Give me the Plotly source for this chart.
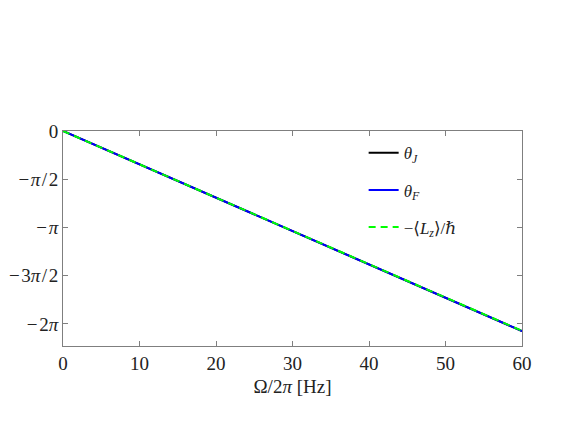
import plotly.graph_objects as go

freq_hz = [0, 10, 20, 30, 40, 50, 60]
theta_J = [0, -1.086, -2.172, -3.257, -4.343, -5.429, -6.515]
theta_F = [0, -1.086, -2.172, -3.257, -4.343, -5.429, -6.515]
Lz_over_hbar = [0, -1.084, -2.168, -3.252, -4.336, -5.420, -6.505]

pi = 3.141592653589793
ytick_vals = [0, -pi/2, -pi, -3*pi/2, -2*pi]
ytick_text = ["0", "−\u200a<i>π</i>\u200a/\u200a2", "−\u200a<i>π</i>",
              "−\u200a3<i>π</i>\u200a/\u200a2", "−\u200a2<i>π</i>"]
xtick_vals = [0, 10, 20, 30, 40, 50, 60]

font_family = "Liberation Serif, DejaVu Serif, serif"

fig = go.Figure()
fig.add_trace(go.Scatter(x=freq_hz, y=theta_J, mode="lines", name="<i>θ<sub>J</sub></i>",
                         line=dict(color="black", width=2), legendgroup="a"))
fig.add_trace(go.Scatter(x=freq_hz, y=theta_F, mode="lines", name="<i>θ<sub>F</sub></i>",
                         line=dict(color="#0000ff", width=2), legendgroup="b"))
fig.add_trace(go.Scatter(x=freq_hz, y=Lz_over_hbar, mode="lines", name="−⟨<i>L<sub>z</sub></i>⟩/ℏ",
                         line=dict(color="#00ff00", width=2, dash="7px,5px"), legendgroup="c"))

axis_common = dict(showline=True, linecolor="#7f7f7f", linewidth=1, mirror="ticks",
                   ticks="inside", ticklen=5, tickcolor="#7f7f7f", showgrid=False, zeroline=False,
                   automargin=False,
                   tickfont=dict(family=font_family, size=19, color="#222"))

fig.update_xaxes(range=[0, 60], tickvals=xtick_vals,
                 title=dict(text="Ω/2<i>π</i> [Hz]", font=dict(family=font_family, size=19, color="#222"), standoff=6),
                 **axis_common)
fig.update_yaxes(range=[-7.0, 0], tickvals=ytick_vals, ticktext=ytick_text, **axis_common)

fig.update_layout(
    width=573, height=425,
    margin=dict(l=55, r=59, t=123, b=87),
    paper_bgcolor="white", plot_bgcolor="white",
    showlegend=True,
    legend=dict(x=0.655, y=0.98, xanchor="left", yanchor="top", bgcolor="rgba(0,0,0,0)",
                tracegroupgap=12, font=dict(family=font_family, size=17, color="#222")),
)

fig.write_html("out.html")
